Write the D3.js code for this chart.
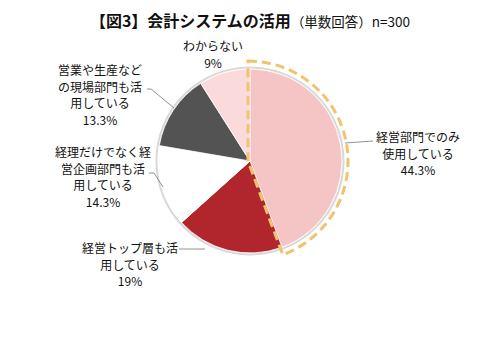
<!DOCTYPE html>
<html>
<head>
<meta charset="utf-8">
<script src="https://cdn.jsdelivr.net/npm/d3@7/dist/d3.min.js"></script>
<style>
  html, body { margin: 0; padding: 0; background: #fff; }
  svg { display: block; }
  text { font-family: "Noto Sans CJK JP", "Noto Sans", sans-serif; fill: #111; }
</style>
</head>
<body>
<svg id="chart" width="500" height="342"></svg>
<script>
// Usage of accounting systems (single answer), n=300
const categories = [
  "経営部門でのみ使用している",
  "経営トップ層も活用している",
  "経理だけでなく経営企画部門も活用している",
  "営業や生産などの現場部門も活用している",
  "わからない"
];
const values = [44.3, 19, 14.3, 13.3, 9];
const valueLabels = ["44.3%", "19%", "14.3%", "13.3%", "9%"];
const labelLines = [
  ["経営部門でのみ", "使用している"],
  ["経営トップ層も活", "用している"],
  ["経理だけでなく経", "営企画部門も活", "用している"],
  ["営業や生産など", "の現場部門も活", "用している"],
  ["わからない"]
];
const colors = ["#F5C4C4", "#B1262D", "#FFFFFF", "#535353", "#FADADB"];

const svg = d3.select("#chart");
const cx = 250, cy = 161, r = 92;

// Title
const title = svg.append("text")
  .attr("x", 250).attr("y", 27)
  .attr("text-anchor", "middle");
title.append("tspan").attr("font-size", 16).attr("font-weight", "bold").text("【図3】会計システムの活用");
title.append("tspan").attr("font-size", 13.5).text("（単数回答）n=300");

const pie = d3.pie().sort(null).value(d => d).startAngle(0).endAngle(2 * Math.PI);
const arcs = pie(values);
const arc = d3.arc().innerRadius(0).outerRadius(r);

const g = svg.append("g").attr("transform", `translate(${cx},${cy})`);

// soft rim around the pie
g.append("circle").attr("r", r + 1.5).attr("fill", "none")
  .attr("stroke", "#d8d8d8").attr("stroke-width", 2);

g.selectAll("path.slice")
  .data(arcs)
  .join("path")
  .attr("class", "slice")
  .attr("d", arc)
  .attr("fill", (d, i) => colors[i])
  .attr("stroke", "#fff")
  .attr("stroke-width", 0.8);

// dashed highlight around the largest slice
const hl = d3.arc().innerRadius(0).outerRadius(r + 8);
g.append("path")
  .attr("d", hl(arcs[0]))
  .attr("transform", "translate(-2,0)")
  .attr("fill", "none")
  .attr("stroke", "#F2C36E")
  .attr("stroke-width", 3)
  .attr("stroke-dasharray", "9,5");

// Labels: [text center x, first line baseline y, leader points]
const labelSpecs = [
  { x: 418, y: 142, lead: [[373, 141], [345, 143]] },
  { x: 130, y: 253, lead: [[179, 249], [205, 249]] },
  { x: 103, y: 157, lead: [[149, 173], [154, 173], [163, 187]] },
  { x: 100, y: 75, lead: [[147, 89], [151, 89], [174, 108]] },
  { x: 213, y: 51, lead: null }
];

labelSpecs.forEach((s, i) => {
  const lines = labelLines[i].concat([valueLabels[i]]);
  const t = svg.append("text")
    .attr("text-anchor", "middle")
    .attr("font-size", 12);
  lines.forEach((ln, k) => {
    t.append("tspan").attr("x", s.x).attr("y", s.y + k * 16.5).text(ln);
  });
  if (s.lead) {
    svg.append("path")
      .attr("d", d3.line()(s.lead))
      .attr("fill", "none")
      .attr("stroke", "#777")
      .attr("stroke-width", 0.8);
  }
});
</script>
</body>
</html>
